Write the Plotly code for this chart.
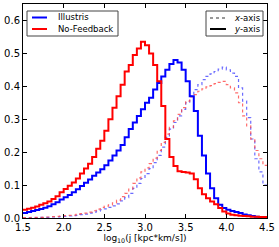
import plotly.graph_objects as go

bin_edges = [round(1.5 + 0.05 * i, 3) for i in range(61)]

illustris_y = [0.015, 0.018, 0.021, 0.024, 0.027, 0.031, 0.036, 0.042, 0.048, 0.056,
               0.063, 0.070, 0.078, 0.087, 0.097, 0.107, 0.117, 0.128, 0.138, 0.148,
               0.160, 0.175, 0.190, 0.205, 0.222, 0.245, 0.270, 0.290, 0.310, 0.330,
               0.350, 0.365, 0.390, 0.410, 0.430, 0.450, 0.468, 0.480, 0.472, 0.450,
               0.415, 0.370, 0.325, 0.250, 0.190, 0.135, 0.090, 0.060, 0.040, 0.030,
               0.025, 0.021, 0.018, 0.015, 0.011, 0.008, 0.006, 0.004, 0.003, 0.002]

nofb_y = [0.025, 0.028, 0.031, 0.035, 0.040, 0.045, 0.050, 0.058, 0.066, 0.078,
          0.088, 0.098, 0.108, 0.120, 0.135, 0.150, 0.165, 0.185, 0.210, 0.235,
          0.265, 0.300, 0.335, 0.370, 0.405, 0.445, 0.465, 0.495, 0.515, 0.535,
          0.525, 0.500, 0.465, 0.415, 0.340, 0.240, 0.185, 0.158, 0.142, 0.140,
          0.138, 0.135, 0.118, 0.090, 0.072, 0.060, 0.050, 0.042, 0.030, 0.020,
          0.014, 0.010, 0.008, 0.007, 0.006, 0.005, 0.004, 0.004, 0.003, 0.003]

illustris_x = [0.000, 0.001, 0.001, 0.001, 0.002, 0.002, 0.002, 0.003, 0.003, 0.004,
               0.005, 0.006, 0.007, 0.008, 0.010, 0.012, 0.015, 0.018, 0.021, 0.025,
               0.028, 0.032, 0.037, 0.043, 0.052, 0.062, 0.075, 0.090, 0.105, 0.120,
               0.135, 0.150, 0.168, 0.190, 0.215, 0.245, 0.270, 0.290, 0.310, 0.330,
               0.350, 0.370, 0.390, 0.405, 0.420, 0.430, 0.438, 0.445, 0.452, 0.458,
               0.450, 0.440, 0.430, 0.395, 0.355, 0.305, 0.240, 0.180, 0.140, 0.100]

nofb_x = [0.001, 0.001, 0.002, 0.002, 0.002, 0.003, 0.003, 0.004, 0.005, 0.006,
          0.007, 0.008, 0.009, 0.011, 0.013, 0.015, 0.018, 0.022, 0.027, 0.032,
          0.036, 0.040, 0.046, 0.054, 0.065, 0.075, 0.088, 0.105, 0.122, 0.140,
          0.152, 0.165, 0.182, 0.205, 0.230, 0.255, 0.275, 0.295, 0.315, 0.335,
          0.355, 0.368, 0.375, 0.385, 0.392, 0.398, 0.402, 0.408, 0.412, 0.415,
          0.405, 0.395, 0.380, 0.350, 0.310, 0.280, 0.240, 0.205, 0.180, 0.160]

x_ticks = [1.5, 2.0, 2.5, 3.0, 3.5, 4.0, 4.5]
y_ticks = [0.0, 0.1, 0.2, 0.3, 0.4, 0.5, 0.6]

series_labels = ["Illustris", "No-Feedback"]
style_labels = ["<i>x</i>-axis", "<i>y</i>-axis"]

BLUE = "#0000ff"
RED = "#ff0000"

W, H = 279, 247
ML, MR, MT, MB = 23, 12, 4, 29
PW, PH = W - ML - MR, H - MT - MB


def steps(vals):
    return vals + [vals[-1]]


def px(x):
    return (x - ML) / PW


def py(y):
    return (H - MB - y) / PH


fig = go.Figure()
fig.add_trace(go.Scatter(x=bin_edges, y=steps(illustris_x), mode="lines", line_shape="hv",
                         line=dict(color="rgba(70,70,255,0.8)", width=1.2, dash="dot"),
                         name="Illustris x-axis", showlegend=False))
fig.add_trace(go.Scatter(x=bin_edges, y=steps(nofb_x), mode="lines", line_shape="hv",
                         line=dict(color="rgba(255,70,70,0.8)", width=1.2, dash="dot"),
                         name="No-Feedback x-axis", showlegend=False))
fig.add_trace(go.Scatter(x=bin_edges, y=steps(illustris_y), mode="lines", line_shape="hv",
                         line=dict(color=BLUE, width=2), name="Illustris y-axis", showlegend=False))
fig.add_trace(go.Scatter(x=bin_edges, y=steps(nofb_y), mode="lines", line_shape="hv",
                         line=dict(color=RED, width=2), name="No-Feedback y-axis", showlegend=False))

axis_common = dict(showgrid=False, zeroline=False, showline=True, linecolor="black",
                   linewidth=1, mirror="allticks", ticks="inside", ticklen=4,
                   tickcolor="black", tickfont=dict(family="DejaVu Sans", size=10, color="black"))

fig.update_xaxes(range=[1.5, 4.5], tickvals=x_ticks, ticktext=[f"{v:.1f}" for v in x_ticks],
                 title=dict(text="log<sub>10</sub>(j [kpc*km/s])",
                            font=dict(family="DejaVu Sans", size=9, color="black"), standoff=2),
                 automargin=False, **axis_common)
fig.update_yaxes(range=[0, 0.65], tickvals=y_ticks, ticktext=[f"{v:.1f}" for v in y_ticks],
                 automargin=False, **axis_common)

# Manual legends (boxes, sample lines, labels)
shapes = []
annotations = []
leg_font = dict(family="DejaVu Sans", size=8.5, color="black")

# left legend
shapes.append(dict(type="rect", xref="paper", yref="paper", x0=px(27), x1=px(118), y0=py(36), y1=py(11),
                   line=dict(color="#444444", width=1), fillcolor="white", layer="above"))
for row_y, col, lab in zip([17.5, 29], [BLUE, RED], series_labels):
    shapes.append(dict(type="line", xref="paper", yref="paper", x0=px(32), x1=px(47), y0=py(row_y), y1=py(row_y),
                       line=dict(color=col, width=2), layer="above"))
    annotations.append(dict(xref="paper", yref="paper", x=px(56), y=py(row_y), text=lab, showarrow=False,
                            xanchor="left", yanchor="middle", font=leg_font))

# right legend
shapes.append(dict(type="rect", xref="paper", yref="paper", x0=px(206), x1=px(263), y0=py(36), y1=py(11),
                   line=dict(color="#444444", width=1), fillcolor="white", layer="above"))
for row_y, dash, w, lab in zip([18, 29], ["dot", "solid"], [1.2, 2], style_labels):
    shapes.append(dict(type="line", xref="paper", yref="paper", x0=px(210), x1=px(226), y0=py(row_y), y1=py(row_y),
                       line=dict(color="#333333" if dash == "dot" else "black", width=w, dash=dash), layer="above"))
    annotations.append(dict(xref="paper", yref="paper", x=px(232), y=py(row_y), text=lab, showarrow=False,
                            xanchor="left", yanchor="middle", font=leg_font))

fig.update_layout(
    width=W, height=H,
    margin=dict(l=ML, r=MR, t=MT, b=MB),
    paper_bgcolor="white", plot_bgcolor="white",
    showlegend=False,
    shapes=shapes, annotations=annotations,
)

fig.write_html("out.html", config={"displayModeBar": False},
               post_script="document.body.style.margin='0';document.body.style.padding='0';")
